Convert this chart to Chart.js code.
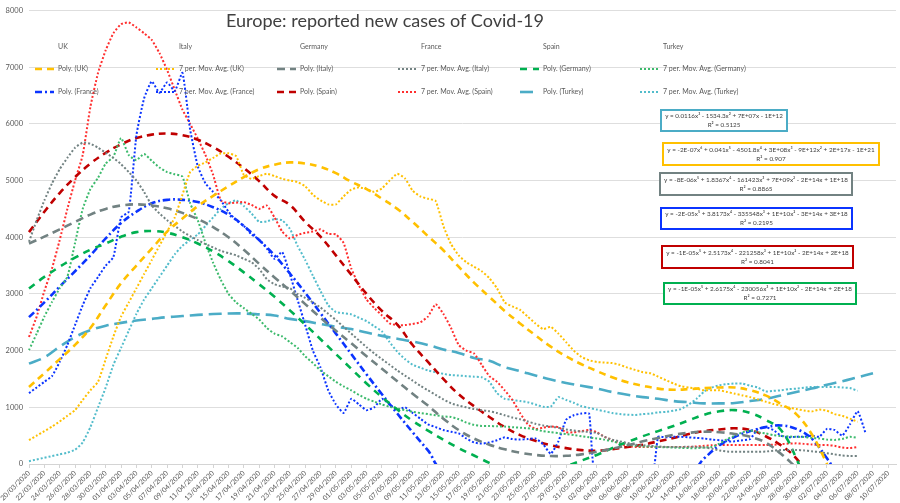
<!DOCTYPE html>
<html><head><meta charset="utf-8">
<script src="https://cdn.jsdelivr.net/npm/chart.js@4.4.1/dist/chart.umd.min.js"></script>
<style>html,body{margin:0;padding:0;background:#fff}#wrap{width:900px;height:503px;position:relative}</style>
</head><body><div id="wrap"><canvas id="c" width="900" height="503"></canvas></div>
<script>
// ---------- DATA ----------
const TITLE = 'Europe: reported new cases of Covid-19';
const countries = ['UK', 'Italy', 'Germany', 'France', 'Spain', 'Turkey'];

// daily categories 20/03/2020 .. 11/07/2020 (labels shown every second day)
const dates = [];
for (let d = new Date(Date.UTC(2020, 2, 20)); dates.length < 114; d.setUTCDate(d.getUTCDate() + 1)) {
  dates.push(String(d.getUTCDate()).padStart(2, '0') + '/' + String(d.getUTCMonth() + 1).padStart(2, '0') + '/' + d.getUTCFullYear());
}

// 7-day moving averages, one value per day
const ukMA = [420,500,580,660,750,850,950,1130,1300,1450,
  1850,2250,2600,2850,3100,3350,3600,3850,4100,4350,
  4750,5150,5260,5320,5400,5480,5480,5430,5100,5030,
  5080,5120,5080,5030,5000,4975,4900,4750,4650,4580,
  4580,4720,4840,4880,4850,4800,4860,5000,5120,5040,
  4820,4720,4680,4640,4200,3880,3680,3560,3480,3400,
  3280,3100,2850,2780,2720,2600,2480,2380,2420,2300,
  2150,2000,1890,1830,1800,1790,1780,1750,1700,1660,
  1620,1600,1540,1480,1420,1370,1350,1330,1300,1300,
  1300,1270,1240,1210,1180,1140,1100,1060,1030,995,
  970,945,925,960,940,880,850,800,745,null,null,null,null];
const italyMA = [3920,4300,4650,4950,5200,5400,5580,5670,5650,5580,
  5490,5400,5290,5150,5000,4800,4560,4420,4300,4200,
  4100,4020,3950,3880,3820,3760,3720,3680,3620,3560,
  3440,3260,3170,3130,3100,3000,2930,2850,2760,2650,
  2540,2420,2300,2180,2060,1950,1850,1750,1650,1560,
  1470,1380,1300,1220,1140,1070,1030,1000,970,950,
  930,900,860,820,790,750,710,680,660,640,
  610,590,575,565,550,480,430,400,370,340,
  330,320,310,300,300,300,305,300,290,270,
  240,220,215,215,215,215,220,235,247,247,
  247,240,225,210,190,170,150,141,141,null,null,null,null];
const germanyMA = [2010,2300,2600,2860,3100,3300,3900,4500,4850,5050,
  5300,5420,5750,5450,5360,5470,5350,5230,5150,5110,
  5070,4600,4300,3900,3550,3250,3000,2850,2750,2650,
  2550,2400,2300,2250,2150,2050,1900,1780,1650,1550,
  1450,1370,1300,1220,1150,1100,1050,1010,980,950,
  920,900,880,860,840,830,790,730,690,670,
  670,665,660,650,640,630,610,580,560,545,
  530,510,490,470,450,430,400,370,340,320,
  310,305,300,295,290,285,280,280,290,300,
  360,440,500,560,590,560,540,510,495,485,
  480,475,460,450,430,425,440,480,460,null,null,null,null];
const franceMA = [1250,1350,1450,1550,1800,2100,2450,2800,3100,3300,
  3500,3650,4350,4450,5800,6450,6750,6550,6730,6580,
  6900,5900,5250,4950,4800,4650,4450,4300,4200,4050,
  3960,3800,3620,3740,3350,2900,2450,2000,1700,1300,
  1050,900,1150,1050,950,1000,1150,1050,950,1000,
  900,800,700,650,600,570,540,450,380,360,
  380,420,470,440,430,440,450,350,180,400,
  780,860,890,890,-300,null,null,null,null,null,
  null,-300,480,470,480,480,470,460,450,430,
  420,400,400,420,440,620,650,600,500,470,
  480,480,500,480,620,600,500,700,930,560,null,null,null];
const spainMA = [2240,2600,3050,3450,3950,4500,5000,5450,6300,6900,
  7300,7600,7760,7790,7700,7600,7480,7250,6950,6600,
  6250,6000,5740,5450,5100,4650,4600,4610,4620,4570,
  4500,4560,4350,4100,3980,4040,4080,4100,4140,4060,
  4050,3900,3450,3150,2900,2750,2620,2480,2450,2450,
  2470,2500,2600,2820,2650,2400,2100,2000,1950,1750,
  1550,1450,1300,1130,900,700,620,640,660,650,
  560,560,580,600,560,480,420,360,320,300,
  300,300,300,300,300,300,300,310,320,330,
  335,335,335,335,335,335,335,340,350,360,
  364,355,345,335,335,320,290,280,300,null,null,null,null];
const turkeyMA = [50,80,110,140,170,200,250,380,650,1000,
  1350,1750,2050,2350,2650,2900,3100,3300,3500,3700,
  3850,3950,4050,4200,4350,4500,4600,4650,4550,4420,
  4270,4280,4320,4300,4150,3850,3600,3320,3050,2800,
  2680,2660,2640,2580,2520,2430,2340,2150,1980,1850,
  1750,1700,1650,1620,1590,1570,1560,1550,1540,1530,
  1450,1250,1150,1130,1110,1090,1050,1010,1010,1180,
  1130,1080,1020,990,960,930,900,880,870,865,
  880,890,910,920,940,970,1050,1150,1280,1350,
  1390,1410,1420,1420,1380,1350,1280,1290,1300,1320,
  1330,1345,1360,1360,1360,1360,1350,1340,1290,null,null,null,null];

// polynomial trendlines, one value every second day (20/03, 22/03, ...)
const ukPoly = [1360,1600,1850,2100,2400,2800,3190,3500,3800,4100,
  4330,4550,4730,4900,5060,5200,5280,5320,5300,5240,
  5130,4980,4850,4680,4500,4270,4020,3770,3480,3200,
  2950,2700,2480,2270,2070,1900,1760,1640,1530,1440,
  1380,1330,1310,1320,1340,1350,1350,1300,1210,1060,
  880,530,0,-600,null,null,null];
const italyPoly = [3890,4010,4140,4270,4400,4500,4560,4580,4560,4510,
  4430,4320,4180,4000,3780,3530,3290,3060,2820,2580,
  2350,2130,1900,1680,1460,1240,1030,800,600,450,
  340,260,200,160,140,145,170,215,270,330,
  400,460,515,550,570,560,530,480,380,180,
  -60,null,null,null,null,null,null];
const germanyPoly = [3095,3300,3480,3640,3780,3890,4010,4090,4110,4080,
  4000,3890,3750,3580,3380,3170,2950,2710,2460,2200,
  1940,1680,1420,1180,960,760,590,430,280,150,
  20,-100,-160,-170,-130,-40,60,160,280,390,
  490,580,670,770,870,930,950,900,780,600,
  100,-600,null,null,null,null,null];
const francePoly = [2590,2850,3130,3400,3680,3980,4250,4450,4600,4660,
  4660,4620,4530,4400,4200,3950,3680,3360,3020,2660,
  2300,1940,1580,1230,890,560,240,-80,null,null,
  null,null,null,null,null,null,null,null,null,null,
  null,null,null,-150,100,330,480,580,650,680,
  620,450,100,-300,null,null,null];
const spainPoly = [4090,4450,4780,5060,5300,5490,5640,5750,5810,5830,
  5800,5720,5590,5420,5220,4990,4730,4570,4270,4010,
  3680,3340,3000,2700,2460,2100,1800,1500,1230,1020,
  830,650,510,410,330,280,245,235,260,300,
  340,400,460,530,580,610,630,600,490,330,
  100,-300,null,null,null,null,null];
const turkeyPoly = [1770,1880,2070,2240,2360,2440,2490,2530,2560,2590,
  2610,2630,2645,2655,2655,2640,2620,2560,2520,2470,
  2420,2380,2320,2260,2210,2160,2100,2020,1960,1870,
  1820,1710,1640,1560,1490,1430,1380,1330,1270,1220,
  1180,1150,1110,1090,1070,1070,1075,1110,1150,1210,
  1270,1330,1400,1460,1530,1600,null];

const equations = [
  ['y = 0.0116x³ - 1534.3x² + 7E+07x - 1E+12', 'R² = 0.5125'],
  ['y = -2E-07x⁶ + 0.041x⁵ - 4501.8x⁴ + 3E+08x³ - 9E+12x² + 2E+17x - 1E+21', 'R² = 0.907'],
  ['y = -8E-06x⁵ + 1.8367x⁴ - 161423x³ + 7E+09x² - 2E+14x + 1E+18', 'R² = 0.8865'],
  ['y = -2E-05x⁵ + 3.8173x⁴ - 335548x³ + 1E+10x² - 3E+14x + 3E+18', 'R² = 0.2195'],
  ['y = -1E-05x⁵ + 2.5173x⁴ - 221258x³ + 1E+10x² - 2E+14x + 2E+18', 'R² = 0.8041'],
  ['y = -1E-05x⁵ + 2.6175x⁴ - 230056x³ + 1E+10x² - 2E+14x + 2E+18', 'R² = 0.7271']
];

// ---------- BUILD ----------
const N = dates.length;
const every2 = arr => { const out = new Array(N).fill(null); arr.forEach((v, k) => { out[2 * k] = v; }); return out; };

const COL = {uk:'#ffc000', italy:'#728282', germP:'#00b050', germM:'#3cba6c', france:'#0b34ff', spainP:'#c00000', spainM:'#ff2e2e', turkey:'#4bacc6', turkeyM:'#52bccb'};
const DOT = [2, 2];
function poly(label, data, color, dash) {
  return {label, data: every2(data), borderColor: color, backgroundColor: color, borderDash: dash, borderWidth: 2.6,
    pointRadius: 0, tension: 0.4, spanGaps: true, fill: false};
}
function ma(label, data, color) {
  return {label, data, borderColor: color, backgroundColor: color, borderDash: DOT, borderWidth: 2,
    pointRadius: 0, tension: 0.15, spanGaps: true, fill: false};
}
const datasets = [
  poly('Poly. (UK)', ukPoly, COL.uk, [7, 5]),
  ma('7 per. Mov. Avg. (UK)', ukMA, COL.uk),
  poly('Poly. (Italy)', italyPoly, COL.italy, [8, 5]),
  ma('7 per. Mov. Avg. (Italy)', italyMA, COL.italy),
  poly('Poly. (Germany)', germanyPoly, COL.germP, [7, 6]),
  ma('7 per. Mov. Avg. (Germany)', germanyMA, COL.germM),
  poly('Poly. (France)', francePoly, COL.france, [7, 3, 2, 3]),
  ma('7 per. Mov. Avg. (France)', franceMA, COL.france),
  poly('Poly. (Spain)', spainPoly, COL.spainP, [7, 5]),
  ma('7 per. Mov. Avg. (Spain)', spainMA, COL.spainM),
  poly('Poly. (Turkey)', turkeyPoly, COL.turkey, [13, 6]),
  ma('7 per. Mov. Avg. (Turkey)', turkeyMA, COL.turkeyM)
];
const eqBoxes = [
  {ds: 10, x: 661, y: 110, w: 126, h: 21},
  {ds: 0, x: 663, y: 143, w: 216, h: 22},
  {ds: 2, x: 660, y: 173, w: 192, h: 22},
  {ds: 6, x: 661, y: 208, w: 191, h: 21},
  {ds: 8, x: 662, y: 246, w: 191, h: 22},
  {ds: 4, x: 664, y: 283, w: 192, h: 21}
];

const overlay = {
  id: 'overlay',
  afterDraw(chart) {
    const ctx = chart.ctx;
    ctx.save();
    // title
    ctx.textBaseline = 'middle';
    ctx.textAlign = 'center';
    ctx.fillStyle = '#404040';
    ctx.font = '20px Lato';
    let fs = 20 * 318 / ctx.measureText(TITLE).width;
    ctx.font = fs.toFixed(2) + 'px Lato';
    ctx.fillText(TITLE, 385, 21);
    // legend
    const colX = [35, 156, 277, 398, 520, 640];
    const rowY = [47, 69, 92];
    ctx.textAlign = 'left';
    ctx.font = '7px Lato';
    ctx.fillStyle = '#595959';
    countries.forEach((name, k) => ctx.fillText(name, colX[k] + 23, rowY[0]));
    for (let r = 0; r < 2; r++) {
      for (let k = 0; k < 6; k++) {
        const ds = chart.data.datasets[r * 6 + k];
        const y = rowY[r + 1];
        ctx.save();
        ctx.strokeStyle = ds.borderColor;
        ctx.lineWidth = ds.borderWidth;
        ctx.setLineDash(ds.borderDash);
        ctx.beginPath();
        ctx.moveTo(colX[k], y);
        ctx.lineTo(colX[k] + 19, y);
        ctx.stroke();
        ctx.restore();
        ctx.fillText(ds.label, colX[k] + 23, y);
      }
    }
    // trendline equation labels
    eqBoxes.forEach((b, k) => {
      const col = chart.data.datasets[b.ds].borderColor;
      ctx.fillStyle = '#ffffff';
      ctx.fillRect(b.x, b.y, b.w, b.h);
      ctx.strokeStyle = col;
      ctx.lineWidth = 2;
      ctx.setLineDash([]);
      ctx.strokeRect(b.x, b.y, b.w, b.h);
      ctx.fillStyle = '#404040';
      ctx.textAlign = 'center';
      ctx.font = '10px Lato';
      const w = ctx.measureText(equations[k][0]).width;
      const f = Math.min(7, 10 * (b.w - 8) / w);
      ctx.font = f.toFixed(2) + 'px Lato';
      ctx.fillText(equations[k][0], b.x + b.w / 2, b.y + b.h * 0.3);
      ctx.fillText(equations[k][1], b.x + b.w / 2, b.y + b.h * 0.72);
    });
    ctx.restore();
  }
};

new Chart(document.getElementById('c'), {
  type: 'line',
  data: {labels: dates, datasets},
  options: {
    responsive: false,
    animation: false,
    devicePixelRatio: 1,
    layout: {padding: {top: 10, right: 4, left: 0, bottom: 0}},
    plugins: {legend: {display: false}, title: {display: false}, tooltip: {enabled: false}},
    scales: {
      x: {
        offset: false,
        afterFit: s => { s.height = 39; },
        grid: {drawOnChartArea: false, drawTicks: true, tickLength: 4, color: '#d4d4d4'},
        border: {display: true, color: '#d4d4d4'},
        ticks: {autoSkip: false, maxRotation: 45, minRotation: 45, color: '#595959', font: {family: 'Lato', size: 7}, padding: 1,
          callback: (v, i) => (i % 2 ? null : dates[i])}
      },
      y: {
        min: 0, max: 8000,
        afterFit: s => { s.width = 29; },
        grid: {color: '#dedede', drawTicks: false},
        border: {display: false},
        ticks: {stepSize: 1000, color: '#595959', font: {family: 'Lato', size: 7.5}, padding: 6,
          callback: v => String(v)}
      }
    }
  },
  plugins: [overlay]
});
</script>
</body></html>
